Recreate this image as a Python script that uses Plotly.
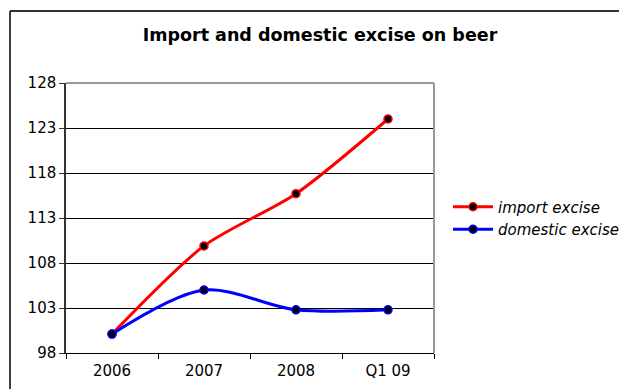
import plotly.graph_objects as go

categories = ["2006", "2007", "2008", "Q1 09"]
import_excise = [100.1, 109.9, 115.7, 124.0]
domestic_excise = [100.1, 105.0, 102.8, 102.8]
y_ticks = [98, 103, 108, 113, 118, 123, 128]

FONT = "DejaVu Sans"

fig = go.Figure()
fig.add_trace(go.Scatter(
    x=categories, y=import_excise, name="import excise",
    mode="lines+markers",
    line=dict(color="#ff0000", width=3, shape="spline", smoothing=0.75),
    marker=dict(color="black", size=8, line=dict(color="#ff0000", width=1.5)),
))
fig.add_trace(go.Scatter(
    x=categories, y=domestic_excise, name="domestic excise",
    mode="lines+markers",
    line=dict(color="#0000ff", width=3, shape="spline", smoothing=0.9),
    marker=dict(color="black", size=8, line=dict(color="#0000ff", width=1.5)),
))

L, R, T, B = 66, 185, 83, 36
W, H = 619, 389
pw, ph = W - L - R, H - T - B

fig.update_layout(
    width=W, height=H,
    margin=dict(l=L, r=R, t=T, b=B, autoexpand=False),
    paper_bgcolor="white", plot_bgcolor="white",
    font=dict(family=FONT, size=15, color="black"),
    title=dict(text="<b>Import and domestic excise on beer</b>",
               x=320 / W, xanchor="center", y=1 - 35 / H, yanchor="middle",
               font=dict(family=FONT, size=17.5, color="black")),
    showlegend=True,
    legend=dict(x=(448 - L) / pw, xanchor="left", y=0.5, yanchor="middle",
                font=dict(family=FONT, size=15, color="black", style="italic"),
                bgcolor="rgba(0,0,0,0)", itemwidth=40, tracegroupgap=0),
    xaxis=dict(type="category", tickson="boundaries", ticks="outside", ticklen=5,
               tickcolor="black", showgrid=False, showline=True, linecolor="black",
               linewidth=1, mirror=False, range=[-0.5, 3.5],
               ticklabelstandoff=4, automargin=False,
               tickfont=dict(family=FONT, size=15)),
    yaxis=dict(range=[98, 128], tickvals=y_ticks, ticks="outside", ticklen=5,
               tickcolor="#333", showgrid=True, gridcolor="black", gridwidth=1,
               showline=True, linecolor="#333", linewidth=1.5, zeroline=False,
               automargin=False,
               tickfont=dict(family=FONT, size=15)),
    shapes=[
        dict(type="line", xref="paper", yref="paper", x0=0, x1=1, y0=1, y1=1,
             line=dict(color="#999999", width=2)),
        dict(type="line", xref="paper", yref="paper", x0=1, x1=1, y0=0, y1=1,
             line=dict(color="#999999", width=2)),
        dict(type="line", xref="paper", yref="paper",
             x0=(10 - L) / pw, x1=1.7, y0=1 + (T - 11) / ph, y1=1 + (T - 11) / ph,
             line=dict(color="#333333", width=2)),
        dict(type="line", xref="paper", yref="paper",
             x0=(10 - L) / pw, x1=(10 - L) / pw, y0=1 + (T - 11) / ph, y1=-0.3,
             line=dict(color="black", width=1.5)),
    ],
)

fig.write_html("out.html")
